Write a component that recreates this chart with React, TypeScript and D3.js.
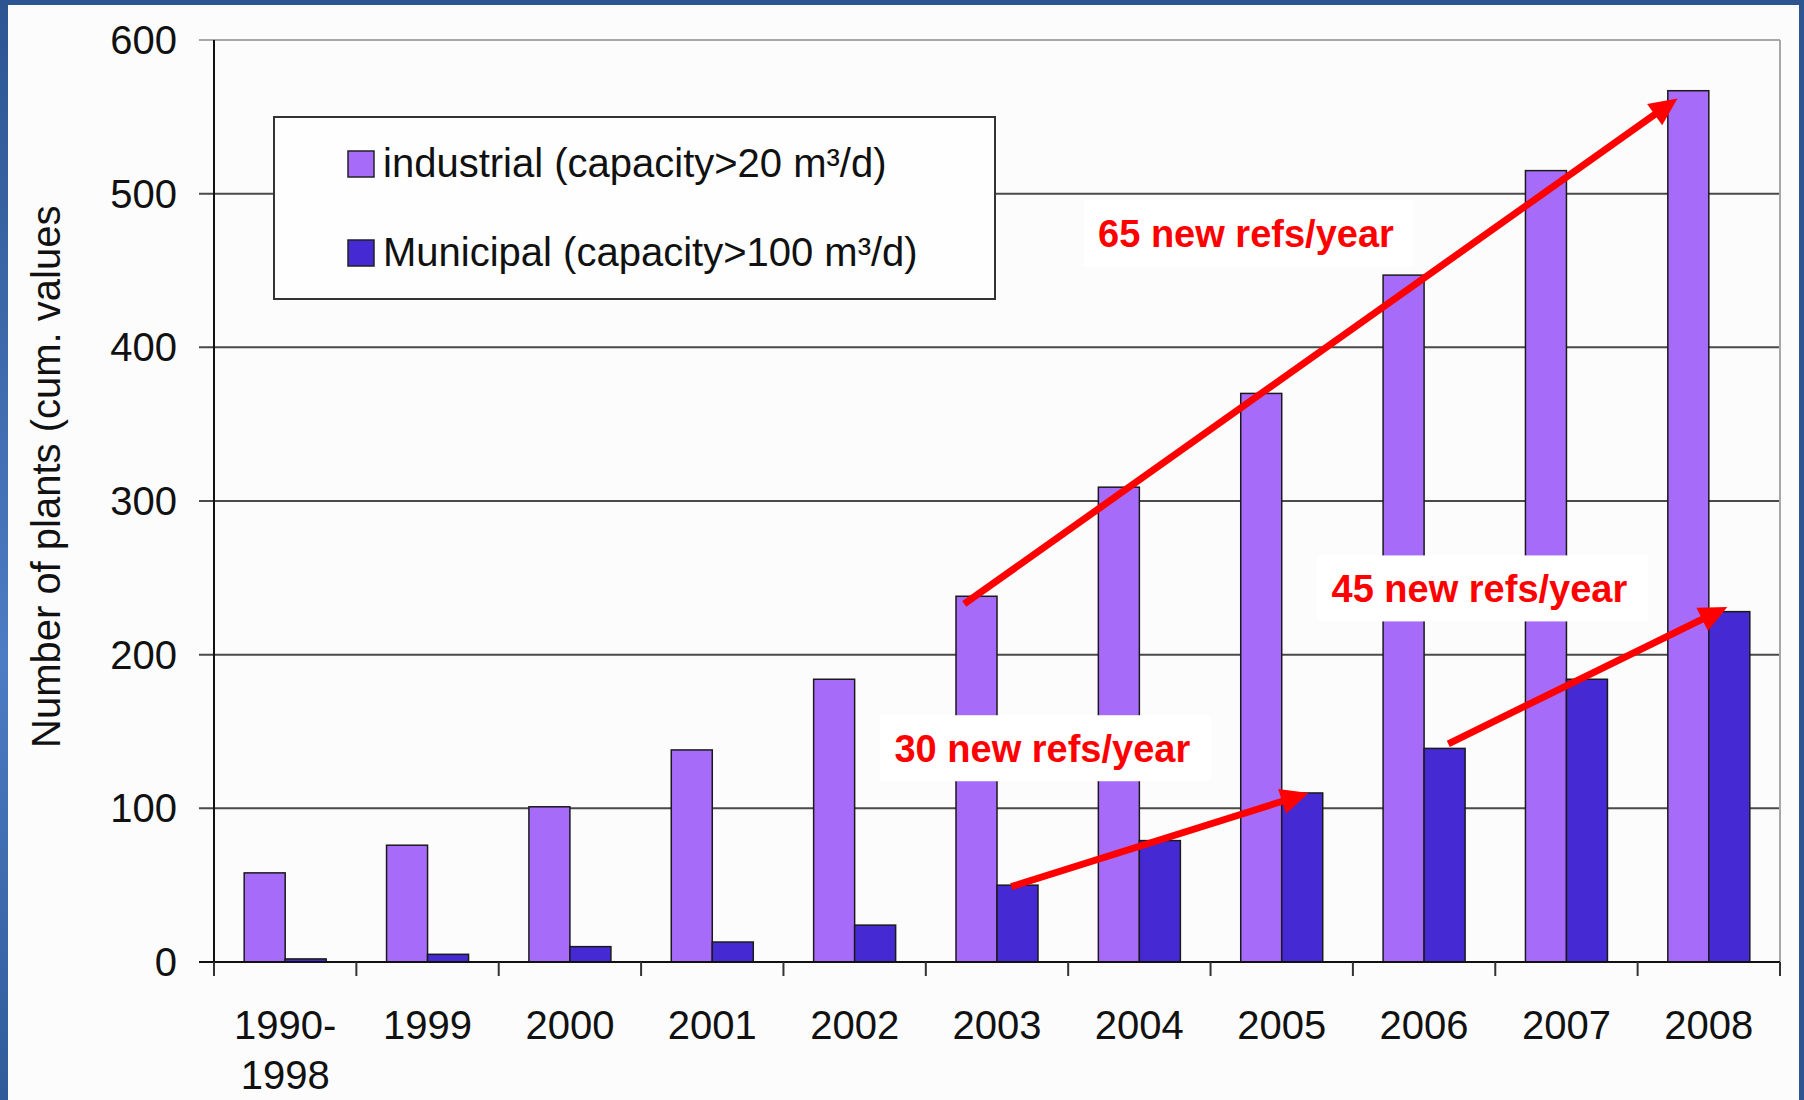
import React, { useEffect, useRef } from "react"
import * as d3 from "d3"

// categories + cumulative plant counts
const categories = ["1990-1998", "1999", "2000", "2001", "2002", "2003", "2004", "2005", "2006", "2007", "2008"]
const industrial = [58, 76, 101, 138, 184, 238, 309, 370, 447, 515, 567]
const municipal = [2, 5, 10, 13, 24, 50, 79, 110, 139, 184, 228]
const yTicks = [0, 100, 200, 300, 400, 500, 600]
const seriesNames = ["industrial (capacity>20 m³/d)", "Municipal (capacity>100 m³/d)"]
const seriesColors = ["#a66cf9", "#452ad3"]

// annotations: [category position, value]
const arrows = [
    { from: [5.27, 233], to: [10.28, 562] },
    { from: [5.6, 49], to: [7.69, 110] },
    { from: [8.67, 142], to: [10.63, 231] },
]
const notes = [
    { text: "65 new refs/year", at: [6.21, 465] },
    { text: "30 new refs/year", at: [4.78, 130] },
    { text: "45 new refs/year", at: [7.85, 234] },
]

const W = 1804
const H = 1100

export default function App() {
    const ref = useRef<SVGSVGElement>(null)

    useEffect(() => {
        const svg = d3.select(ref.current)
        svg.selectAll("*").remove()

        const left = 214, right = 1780, top = 40, bottom = 962

        // slide frame
        const defs = svg.append("defs")
        const grad = defs.append("linearGradient").attr("id", "side").attr("x1", 0).attr("y1", 0).attr("x2", 0).attr("y2", 1)
        grad.append("stop").attr("offset", "0%").attr("stop-color", "#2d5592")
        grad.append("stop").attr("offset", "60%").attr("stop-color", "#4c7cc3")
        grad.append("stop").attr("offset", "100%").attr("stop-color", "#2f5b9a")
        svg.append("rect").attr("width", W).attr("height", H).attr("fill", "#fcfcfc")
        svg.append("rect").attr("width", W).attr("height", 5).attr("fill", "#2d5592")
        svg.append("rect").attr("width", 8).attr("height", H).attr("fill", "url(#side)")
        svg.append("rect").attr("x", W - 5).attr("width", 5).attr("height", H).attr("fill", "#2d5592")

        const x0 = d3.scaleBand().domain(categories).range([left, right])
        const xPos = d3.scaleLinear().domain([0, categories.length]).range([left, right])
        const y = d3.scaleLinear().domain([0, 600]).range([bottom, top])
        const barW = 41
        const groupOff = (x0.bandwidth() - 2 * barW) / 2

        // gridlines
        svg.append("g")
            .selectAll("line")
            .data(yTicks.filter(d => d > 0))
            .enter()
            .append("line")
            .attr("x1", left - 15)
            .attr("x2", right)
            .attr("y1", d => y(d))
            .attr("y2", d => y(d))
            .attr("stroke", d => d === 600 ? "#a8a8a8" : "#4a4a4a")
            .attr("stroke-width", 2)
        svg.append("line")
            .attr("x1", right).attr("x2", right).attr("y1", top).attr("y2", bottom)
            .attr("stroke", "#a8a8a8").attr("stroke-width", 2)

        // bars
        const groups = svg.append("g")
            .selectAll("g")
            .data(categories)
            .enter()
            .append("g")
            .attr("transform", d => "translate(" + (x0(d)! + groupOff) + ",0)")
        ;[industrial, municipal].forEach((vals, s) => {
            groups.append("rect")
                .attr("x", s * barW)
                .attr("y", (d, i) => y(vals[i]))
                .attr("width", barW)
                .attr("height", (d, i) => y(0) - y(vals[i]))
                .attr("fill", seriesColors[s])
                .attr("stroke", "#1a1a1a")
                .attr("stroke-width", 1.5)
        })

        // axes
        svg.append("line")
            .attr("x1", left).attr("x2", left).attr("y1", top).attr("y2", bottom)
            .attr("stroke", "#111").attr("stroke-width", 2)
        svg.append("line")
            .attr("x1", left - 15).attr("x2", right).attr("y1", bottom).attr("y2", bottom)
            .attr("stroke", "#111").attr("stroke-width", 2)
        svg.append("g")
            .selectAll("line")
            .data(d3.range(categories.length + 1))
            .enter()
            .append("line")
            .attr("x1", d => xPos(d)).attr("x2", d => xPos(d))
            .attr("y1", bottom).attr("y2", bottom + 14)
            .attr("stroke", "#333").attr("stroke-width", 2)

        svg.append("g")
            .selectAll("text")
            .data(yTicks)
            .enter()
            .append("text")
            .attr("x", 177)
            .attr("y", d => y(d))
            .attr("dy", "0.35em")
            .attr("text-anchor", "end")
            .attr("font-family", "Liberation Sans, Arial")
            .attr("font-size", 40)
            .attr("fill", "#111")
            .text(d => d)

        const xl = svg.append("g")
            .selectAll("text")
            .data(categories)
            .enter()
            .append("text")
            .attr("x", d => x0(d)! + x0.bandwidth() / 2)
            .attr("y", 1039)
            .attr("text-anchor", "middle")
            .attr("font-family", "Liberation Sans, Arial")
            .attr("font-size", 40)
            .attr("fill", "#111")
        xl.each(function (d) {
            const parts = d.includes("-") ? [d.split("-")[0] + "-", d.split("-")[1]] : [d]
            parts.forEach((p, k) => {
                d3.select(this).append("tspan")
                    .attr("x", x0(d)! + x0.bandwidth() / 2)
                    .attr("dy", k === 0 ? 0 : 50)
                    .text(p)
            })
        })

        svg.append("text")
            .attr("transform", "translate(60,748) rotate(-90)")
            .attr("font-family", "Liberation Sans, Arial")
            .attr("font-size", 40)
            .attr("fill", "#111")
            .text("Number of plants (cum. values")

        // legend
        svg.append("rect")
            .attr("x", 274).attr("y", 117).attr("width", 721).attr("height", 182)
            .attr("fill", "#fefefe").attr("stroke", "#333").attr("stroke-width", 2)
        seriesNames.forEach((name, s) => {
            const by = 177 + s * 89
            svg.append("rect")
                .attr("x", 348).attr("y", by - 26).attr("width", 26).attr("height", 26)
                .attr("fill", seriesColors[s]).attr("stroke", "#222").attr("stroke-width", 1.5)
            svg.append("text")
                .attr("x", 383).attr("y", by)
                .attr("font-family", "Liberation Sans, Arial")
                .attr("font-size", 40)
                .attr("fill", "#111")
                .text(name)
        })

        // annotations
        const notesG = svg.append("g")
        notes.forEach(n => {
            const tx = xPos(n.at[0]), ty = y(n.at[1])
            notesG.append("rect")
                .attr("x", tx - 14).attr("y", ty - 47).attr("width", 330).attr("height", 66)
                .attr("fill", "#ffffff")
            notesG.append("text")
                .attr("x", tx).attr("y", ty)
                .attr("font-family", "Liberation Sans, Arial")
                .attr("font-size", 38)
                .attr("font-weight", "bold")
                .attr("fill", "#ff0000")
                .text(n.text)
        })

        arrows.forEach(a => {
            const x1 = xPos(a.from[0]), y1 = y(a.from[1])
            const x2 = xPos(a.to[0]), y2 = y(a.to[1])
            const len = Math.hypot(x2 - x1, y2 - y1)
            const ux = (x2 - x1) / len, uy = (y2 - y1) / len
            const hl = 28, hw = 13
            const bx = x2 - ux * hl, by = y2 - uy * hl
            svg.append("line")
                .attr("x1", x1).attr("y1", y1).attr("x2", bx + ux * 2).attr("y2", by + uy * 2)
                .attr("stroke", "#ff0000").attr("stroke-width", 7)
            svg.append("polygon")
                .attr("points", [[x2, y2], [bx - uy * hw, by + ux * hw], [bx + uy * hw, by - ux * hw]].map(p => p.join(",")).join(" "))
                .attr("fill", "#ff0000")
        })
    }, [])

    return <svg ref={ref} width={W} height={H} style={{ position: "absolute", left: 0, top: 0, display: "block" }} />
}
